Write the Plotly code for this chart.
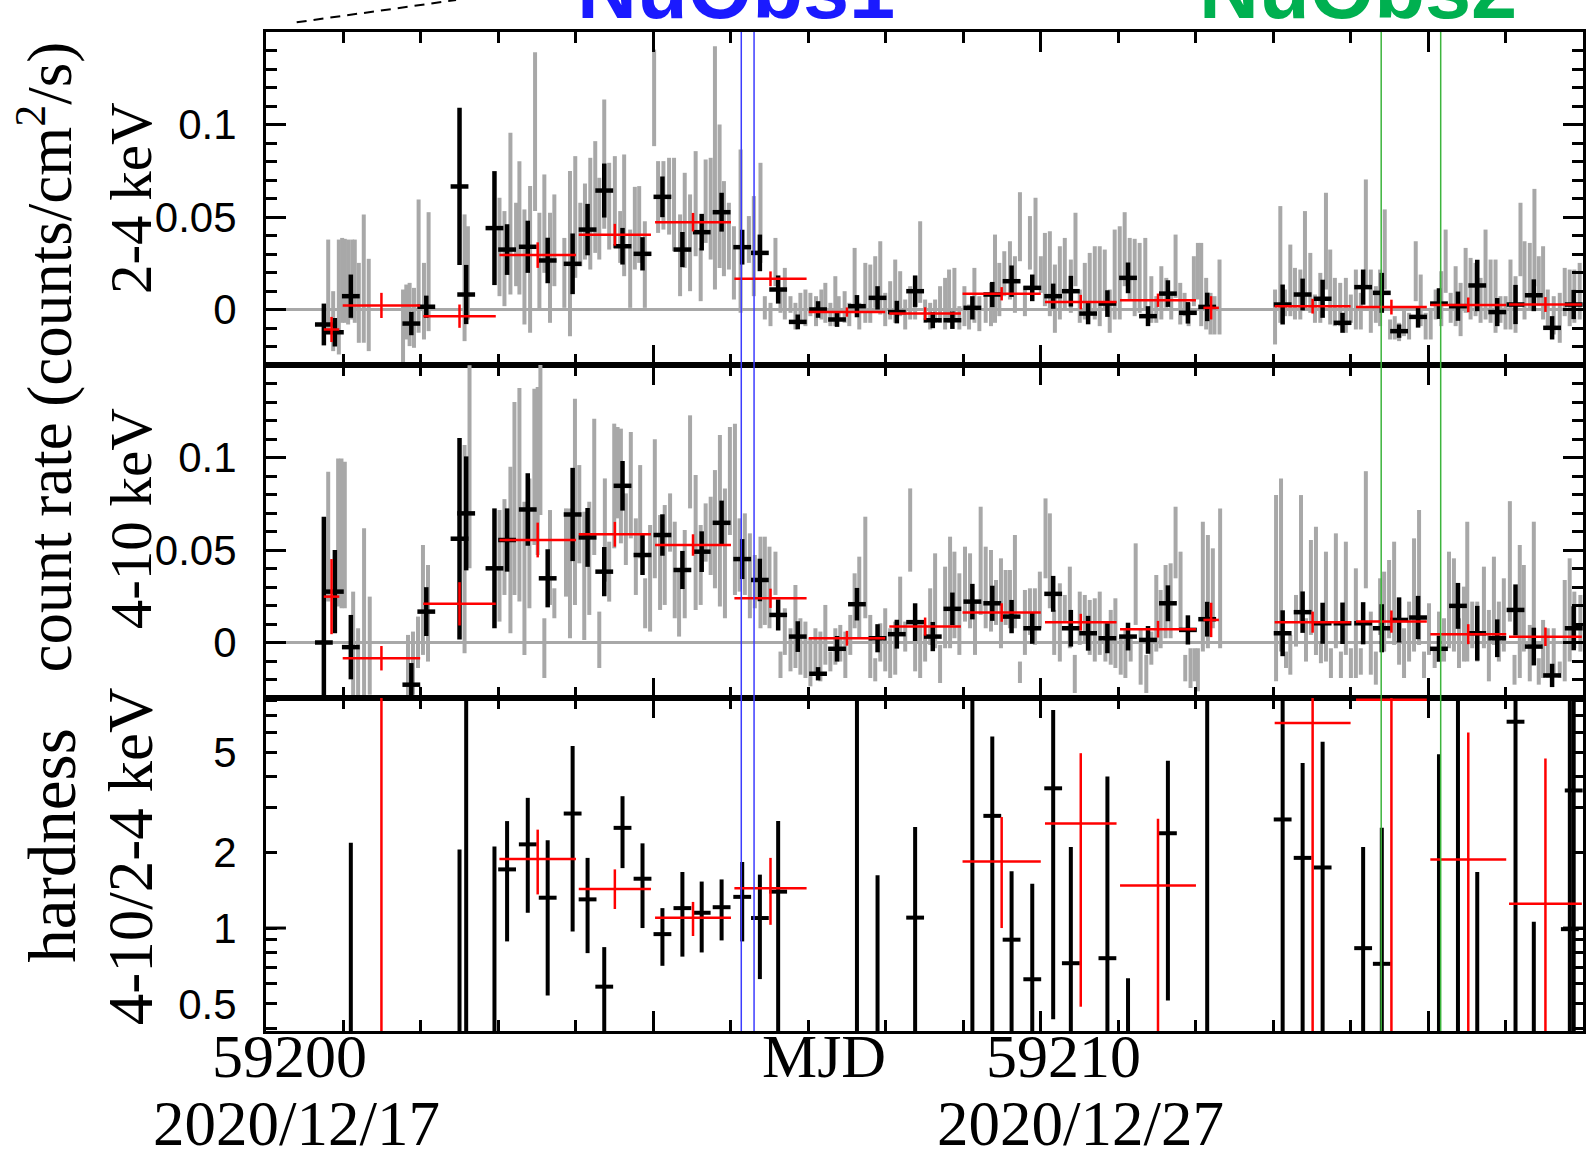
import numpy as np
import plotly.graph_objects as go
from plotly.subplots import make_subplots

# ---------------- data (times in days since MJD 59200) ----------------
MJD0 = 59200.0
X_RANGE = [59199.70, 59216.70]
TICK0 = 59199.70

obs1_window = [59205.835, 59206.000]   # NuObs1
obs2_window = [59214.095, 59214.863]   # NuObs2

# quarter-day bins (black)
black_t = [0.447, 0.589, 0.795, 1.576, 1.769, 2.198, 2.284, 2.649, 2.812, 3.079,
           3.336, 3.658, 3.851, 4.066, 4.302, 4.560, 4.817, 5.075, 5.324, 5.581,
           5.847, 6.075, 6.311, 6.564, 6.826, 7.071, 7.328, 7.594, 7.843, 8.079,
           8.307, 8.560, 8.818, 9.075, 9.324, 9.591, 9.861, 10.089, 10.312, 10.561,
           10.827, 11.085, 11.342, 11.600, 11.849, 12.823, 13.081, 13.339, 13.596, 13.862,
           14.103, 14.326, 14.571, 14.841, 15.086, 15.335, 15.593, 15.829, 16.065, 16.301,
           16.580]
black_rate_24 = [-0.0081, -0.0123, 0.0072, -0.0076, 0.0015, 0.0665, 0.0081, 0.0440, 0.0324, 0.0339,
                 0.0265, 0.0247, 0.0432, 0.0643, 0.0342, 0.0301, 0.0609, 0.0324, 0.0418, 0.0526,
                 0.0337, 0.0306, 0.0108, -0.0067, 0.0000, -0.0054, 0.0018, 0.0063, -0.0014, 0.0099,
                 -0.0058, -0.0058, 0.0009, 0.0081, 0.0153, 0.0117, 0.0072, 0.0099, -0.0022, 0.0032,
                 0.0171, -0.0036, 0.0086, -0.0018, 0.0014, 0.0027, 0.0081, 0.0058, -0.0072, 0.0121,
                 0.0090, -0.0117, -0.0040, 0.0032, 0.0018, 0.0130, -0.0014, 0.0027, 0.0077, -0.0099,
                 0.0027]
black_err_24 = [0.0113, 0.0077, 0.0117, 0.0063, 0.0060, 0.0425, 0.0160, 0.0308, 0.0137, 0.0141,
                0.0123, 0.0164, 0.0139, 0.0146, 0.0099, 0.0090, 0.0110, 0.0095, 0.0099, 0.0105,
                0.0094, 0.0099, 0.0076, 0.0040, 0.0045, 0.0040, 0.0060, 0.0063, 0.0061, 0.0085,
                0.0043, 0.0047, 0.0063, 0.0068, 0.0085, 0.0072, 0.0068, 0.0083, 0.0058, 0.0072,
                0.0083, 0.0054, 0.0072, 0.0058, 0.0077, 0.0108, 0.0086, 0.0103, 0.0054, 0.0095,
                0.0108, 0.0036, 0.0058, 0.0083, 0.0079, 0.0139, 0.0076, 0.0106, 0.0086, 0.0063,
                0.0079]
black_rate_410 = [0.0000, 0.0275, -0.0025, -0.0228, 0.0167, 0.0561, 0.0698, 0.0401, 0.0554, 0.0719,
                  0.0347, 0.0692, 0.0568, 0.0383, 0.0847, 0.0473, 0.0581, 0.0392, 0.0491, 0.0647,
                  0.0451, 0.0338, 0.0149, 0.0032, -0.0169, -0.0034, 0.0207, 0.0023, 0.0045, 0.0110,
                  0.0032, 0.0182, 0.0221, 0.0212, 0.0140, 0.0077, 0.0263, 0.0077, 0.0050, 0.0023,
                  0.0032, 0.0014, 0.0212, 0.0068, 0.0126, 0.0050, 0.0164, 0.0104, 0.0104, 0.0104,
                  0.0077, 0.0122, 0.0135, -0.0034, 0.0198, 0.0050, 0.0023, 0.0176, -0.0022, -0.0178,
                  0.0077]
black_err_410 = [0.0680, 0.0225, 0.0174, 0.0117, 0.0132, 0.0545, 0.0308, 0.0324, 0.0171, 0.0196,
                 0.0157, 0.0252, 0.0159, 0.0133, 0.0134, 0.0108, 0.0112, 0.0103, 0.0110, 0.0120,
                 0.0108, 0.0115, 0.0084, 0.0083, 0.0036, 0.0069, 0.0088, 0.0076, 0.0078, 0.0102,
                 0.0079, 0.0088, 0.0096, 0.0095, 0.0090, 0.0084, 0.0097, 0.0099, 0.0094, 0.0081,
                 0.0075, 0.0075, 0.0097, 0.0079, 0.0094, 0.0124, 0.0112, 0.0111, 0.0112, 0.0114,
                 0.0130, 0.0122, 0.0117, 0.0070, 0.0124, 0.0148, 0.0102, 0.0138, 0.0102, 0.0063,
                 0.0119]
BLACK_XERR = 0.115

# one-day bins (red)
red_t = [0.546, 1.190, 2.198, 3.207, 4.203, 5.212, 6.212, 7.199, 8.208, 9.196,
         10.217, 11.214, 11.900, 13.210, 14.227, 15.219, 16.215]
red_xerr = [0.10, 0.50, 0.468, 0.494, 0.466, 0.49, 0.466, 0.494, 0.462, 0.505,
            0.462, 0.49, 0.10, 0.49, 0.457, 0.49, 0.47]
red_rate_24 = [-0.0108, 0.0022, -0.0036, 0.0294, 0.0404, 0.0472, 0.0166, -0.0014, -0.0022, 0.0085,
               0.0040, 0.0050, 0.0009, 0.0018, 0.0013, 0.0025, 0.0027]
red_err_24 = [0.0068, 0.0068, 0.0063, 0.0069, 0.0059, 0.0050, 0.0040, 0.0025, 0.0034, 0.0036,
              0.0039, 0.0036, 0.0063, 0.0040, 0.0040, 0.0040, 0.0040]
red_rate_410 = [0.0248, -0.0085, 0.0209, 0.0554, 0.0585, 0.0527, 0.0239, 0.0023, 0.0086, 0.0162,
                0.0110, 0.0072, 0.0122, 0.0110, 0.0113, 0.0045, 0.0031]
red_err_410 = [0.0203, 0.0066, 0.0117, 0.0094, 0.0067, 0.0058, 0.0052, 0.0040, 0.0049, 0.0050,
               0.0045, 0.0045, 0.0093, 0.0057, 0.0060, 0.0054, 0.0050]

# orbit bins (gray), 2-4 keV
gray24_t = [0.503, 0.567, 0.640, 0.683, 0.717, 0.760, 0.812, 0.846, 0.898, 0.962, 1.026, 1.469, 1.511, 1.554, 1.610, 1.670, 1.739, 1.799, 2.263, 2.306, 2.714, 2.778, 2.855, 2.928, 2.971, 3.036, 3.109, 3.173, 3.229, 3.293, 3.366, 3.422, 3.551, 3.624, 3.692, 3.757, 3.817, 3.886, 3.950, 4.002, 4.066, 4.130, 4.203, 4.272, 4.323, 4.401, 4.461, 4.517, 4.590, 4.710, 4.761, 4.830, 4.903, 4.967, 5.045, 5.105, 5.174, 5.246, 5.311, 5.375, 5.440,
            5.495, 5.555, 5.611, 5.675, 5.740, 5.826, 5.933, 5.997, 6.083, 6.139, 6.212, 6.276, 6.341, 6.397, 6.470, 6.534, 6.598, 6.663, 6.727, 6.800, 6.869, 6.920, 6.985, 7.049, 7.092, 7.169, 7.229, 7.298, 7.358, 7.436, 7.500, 7.564, 7.629, 7.693, 7.757, 7.822, 7.886, 7.951, 8.015, 8.079, 8.144, 8.208, 8.273, 8.337, 8.401, 8.466, 8.517, 8.586, 8.650, 8.715, 8.775, 8.844, 8.908, 8.990, 9.058, 9.110, 9.166, 9.230, 9.303, 9.367, 9.432, 9.496, 9.561, 9.633, 9.702, 9.754, 9.818, 9.883, 9.947, 10.011, 10.089, 10.149, 10.204, 10.269, 10.333, 10.398, 10.462, 10.527, 10.591, 10.655, 10.720, 10.784, 10.849, 10.913, 10.977,
            11.050, 11.128, 11.192, 11.257, 11.321, 11.385, 11.441, 11.501, 11.557, 11.609, 11.677, 11.729, 11.772, 11.836, 11.892, 11.943, 12.008, 12.725, 12.793, 12.854, 12.922, 12.982, 13.051, 13.111, 13.180, 13.240, 13.309, 13.382, 13.437, 13.497, 13.566, 13.639, 13.703, 13.768, 13.832, 13.897, 13.961, 14.026, 14.081, 14.141, 14.210, 14.270, 14.326, 14.390, 14.455, 14.541, 14.605, 14.669, 14.734, 14.798, 14.871, 14.927, 14.992, 15.056, 15.120, 15.185, 15.249, 15.313, 15.378, 15.442, 15.507, 15.571, 15.635, 15.700, 15.764, 15.829, 15.893, 15.945, 16.013, 16.073, 16.129, 16.185, 16.245, 16.322, 16.400, 16.464, 16.528, 16.588, 16.657]
gray24_hi = [0.0378, 0.0099, 0.0378, 0.0387, 0.0382, 0.0378, 0.0378, 0.0378, 0.0252, 0.0514, 0.0274, 0.0108, 0.0135, 0.0144, 0.0117, 0.0595, 0.0252, 0.0526, 0.0514, 0.0450, 0.0604, 0.0532, 0.0955, 0.0577, 0.0802, 0.0541, 0.0667, 0.1391, 0.0523, 0.0730, 0.0523, 0.0622, 0.0387, 0.0748, 0.0829, 0.0577, 0.0681, 0.0820, 0.0910, 0.0712, 0.1135, 0.0793, 0.0829, 0.0532, 0.0838, 0.0432, 0.0663, 0.0667, 0.0477, 0.1405, 0.0802, 0.0802, 0.0820, 0.0820, 0.0514, 0.0739, 0.0622, 0.0856, 0.0333, 0.0811, 0.0820,
             0.1423, 0.1000, 0.0694, 0.0577, 0.0450, 0.0865, 0.0505, 0.0613, 0.0793, 0.0072, 0.0036, 0.0387, 0.0108, 0.0225, 0.0072, 0.0036, 0.0090, 0.0108, 0.0090, 0.0072, 0.0108, 0.0144, 0.0036, 0.0180, 0.0072, 0.0099, 0.0036, 0.0333, 0.0036, 0.0252, 0.0243, 0.0288, 0.0369, 0.0090, 0.0153, 0.0270, 0.0207, 0.0054, 0.0126, 0.0180, 0.0477, 0.0054, 0.0036, 0.0054, 0.0126, 0.0171, 0.0216, 0.0225, 0.0018, 0.0126, 0.0027, 0.0225, 0.0072, 0.0072, 0.0144, 0.0405, 0.0252, 0.0315, 0.0369, 0.0288, 0.0634, 0.0126, 0.0505, 0.0604, 0.0288, 0.0414, 0.0423, 0.0243, 0.0342, 0.0387, 0.0270, 0.0523, 0.0108, 0.0252, 0.0306, 0.0342, 0.0342, 0.0324, 0.0108, 0.0432, 0.0450, 0.0526, 0.0387, 0.0382, 0.0360,
             0.0387, 0.0180, 0.0072, 0.0234, 0.0171, 0.0090, 0.0405, 0.0144, 0.0090, 0.0036, 0.0288, 0.0360, 0.0360, 0.0171, 0.0090, 0.0072, 0.0270, 0.0108, 0.0559, 0.0108, 0.0351, 0.0225, 0.0216, 0.0532, 0.0306, 0.0081, 0.0198, 0.0631, 0.0324, 0.0171, 0.0144, 0.0171, 0.0081, 0.0216, 0.0090, 0.0703, 0.0216, 0.0126, 0.0216, 0.0541, -0.0054, -0.0036, -0.0072, 0.0009, -0.0018, 0.0369, 0.0189, -0.0018, 0.0009, 0.0108, 0.0207, 0.0432, 0.0090, 0.0234, 0.0144, 0.0333, 0.0279, 0.0252, 0.0171, 0.0432, 0.0270, 0.0270, 0.0072, 0.0072, 0.0270, 0.0180, 0.0577, 0.0369, 0.0360, 0.0652, 0.0288, 0.0342, 0.0108, 0.0072, 0.0090, 0.0225, 0.0216, 0.0216, 0.0252]
gray24_lo = [-0.0108, -0.0225, -0.0243, -0.0072, -0.0072, -0.0081, -0.0054, -0.0072, -0.0180, -0.0180, -0.0225, -0.0288, -0.0162, -0.0198, -0.0207, -0.0126, -0.0162, -0.0117, -0.0171, -0.0054, 0.0072, 0.0018, 0.0081, 0.0126, 0.0081, -0.0081, -0.0126, 0.0532, 0.0000, 0.0198, -0.0072, 0.0126, 0.0009, -0.0144, 0.0171, 0.0234, 0.0270, 0.0216, 0.0306, 0.0270, 0.0436, 0.0324, 0.0333, 0.0252, 0.0180, 0.0009, 0.0216, 0.0252, 0.0009, 0.0883, 0.0414, 0.0432, 0.0405, 0.0315, 0.0072, 0.0225, 0.0099, 0.0288, 0.0045, 0.0360, 0.0270,
             0.0108, 0.0225, 0.0180, 0.0216, 0.0054, -0.0018, 0.0252, 0.0072, 0.0252, -0.0054, -0.0090, 0.0126, -0.0018, -0.0054, -0.0018, -0.0108, -0.0072, -0.0090, -0.0036, -0.0090, -0.0054, -0.0072, -0.0090, -0.0090, -0.0054, -0.0072, -0.0090, 0.0018, -0.0108, -0.0072, -0.0072, 0.0009, -0.0027, -0.0090, -0.0054, -0.0072, -0.0036, -0.0108, -0.0054, -0.0054, 0.0036, -0.0072, -0.0108, -0.0072, -0.0072, -0.0108, -0.0072, -0.0054, -0.0108, -0.0090, -0.0108, -0.0072, -0.0117, -0.0072, -0.0090, -0.0072, -0.0036, 0.0072, 0.0054, -0.0018, 0.0261, -0.0036, 0.0216, 0.0126, 0.0090, 0.0018, -0.0036, -0.0126, -0.0054, 0.0000, -0.0018, 0.0126, -0.0072, -0.0054, -0.0018, -0.0054, -0.0090, 0.0000, -0.0126, -0.0054, -0.0054, 0.0126, 0.0054, -0.0036, -0.0018,
             0.0000, -0.0072, -0.0072, -0.0054, 0.0009, -0.0054, 0.0063, -0.0081, -0.0036, -0.0090, 0.0018, 0.0054, -0.0090, -0.0108, -0.0135, -0.0135, -0.0135, -0.0189, -0.0072, -0.0036, -0.0036, -0.0054, -0.0054, 0.0000, -0.0018, -0.0072, -0.0072, 0.0108, -0.0081, -0.0090, -0.0090, -0.0126, -0.0072, -0.0108, -0.0108, 0.0126, -0.0126, -0.0072, -0.0090, 0.0108, -0.0162, -0.0162, -0.0171, -0.0144, -0.0162, 0.0045, -0.0090, -0.0162, -0.0162, -0.0054, -0.0090, 0.0090, -0.0072, -0.0090, -0.0144, -0.0018, -0.0054, -0.0036, -0.0072, -0.0054, -0.0072, -0.0126, -0.0072, -0.0108, -0.0108, -0.0126, 0.0180, -0.0054, 0.0000, 0.0126, 0.0018, -0.0054, -0.0108, -0.0135, -0.0180, -0.0036, -0.0090, -0.0072, -0.0054]

# orbit bins (gray), 4-10 keV
gray410_t = [0.503, 0.631, 0.674, 0.717, 0.825, 0.889, 0.966, 1.039, 1.533, 1.597, 1.662, 1.726, 1.791, 2.263, 2.327, 2.714, 2.778, 2.855, 2.907, 2.971, 3.036, 3.100, 3.164, 3.207, 3.242, 3.293, 3.366, 3.422, 3.572, 3.624, 3.688, 3.744, 3.808, 3.873, 3.937, 4.002, 4.074, 4.130, 4.195, 4.238, 4.281, 4.345, 4.409, 4.474, 4.530, 4.594, 4.658, 4.719, 4.787, 4.847, 4.916, 4.976, 5.032, 5.105, 5.174, 5.246, 5.311, 5.375, 5.440,
             5.495, 5.559, 5.624, 5.688, 5.753, 5.813, 5.881, 5.946, 6.010, 6.083, 6.139, 6.199, 6.276, 6.341, 6.397, 6.470, 6.534, 6.598, 6.663, 6.727, 6.792, 6.856, 6.920, 6.985, 7.049, 7.113, 7.178, 7.242, 7.298, 7.358, 7.436, 7.500, 7.564, 7.629, 7.693, 7.757, 7.822, 7.886, 7.951, 8.015, 8.079, 8.144, 8.208, 8.273, 8.337, 8.401, 8.466, 8.530, 8.586, 8.650, 8.723, 8.788, 8.852, 8.925, 8.990, 9.058, 9.123, 9.187, 9.247, 9.303, 9.367, 9.432, 9.496, 9.561, 9.625, 9.689, 9.762, 9.818, 9.874, 9.947, 10.011, 10.076, 10.140, 10.204, 10.269, 10.333, 10.398, 10.462, 10.535, 10.604, 10.664, 10.733, 10.793, 10.861, 10.926, 10.990,
             11.063, 11.128, 11.192, 11.248, 11.312, 11.377, 11.441, 11.505, 11.566, 11.634, 11.686, 11.729, 11.793, 11.858, 11.922, 12.016, 12.738, 12.802, 12.866, 12.922, 12.995, 13.060, 13.124, 13.188, 13.253, 13.317, 13.382, 13.446, 13.510, 13.575, 13.639, 13.704, 13.768, 13.832, 13.897, 13.961, 14.026, 14.081, 14.133, 14.197, 14.262, 14.326, 14.390, 14.455, 14.519, 14.584, 14.648, 14.712, 14.785, 14.841, 14.906, 14.970, 15.034, 15.099, 15.163, 15.206, 15.270, 15.335, 15.421, 15.485, 15.550, 15.614, 15.678, 15.756, 15.816, 15.884, 15.936, 16.013, 16.065, 16.129, 16.185, 16.245, 16.322, 16.400, 16.464, 16.528, 16.588, 16.666]
gray410_hi = [0.0923, 0.0995, 0.0995, 0.0977, 0.0275, 0.0077, 0.0617, 0.0248, 0.0041, 0.0059, 0.0140, 0.0527, 0.0419, 0.1067, 0.1498, 0.0716, 0.0775, 0.0950, 0.1300, 0.1376, 0.0761, 0.0887, 0.1372, 0.1381, 0.1502, 0.0131, 0.0716, 0.0293, 0.0725, 0.0725, 0.1318, 0.0959, 0.0707, 0.0761, 0.1210, 0.0167, 0.0887, 0.0545, 0.1183, 0.1165, 0.1156, 0.0806, 0.1138, 0.0671, 0.0959, 0.0347, 0.0635, 0.1099, 0.0689, 0.0743, 0.0806, 0.0653, 0.0392, 0.0608, 0.1228, 0.0905, 0.0635, 0.0752, 0.0788,
              0.0932, 0.1121, 0.0833, 0.1165, 0.1183, 0.0671, 0.0698, 0.0590, 0.0473, 0.0572, 0.0572, 0.0518, 0.0491, -0.0049, 0.0185, 0.0077, 0.0311, 0.0131, 0.0113, 0.0023, 0.0077, 0.0059, 0.0203, -0.0049, 0.0077, 0.0095, 0.0059, 0.0149, 0.0374, 0.0464, 0.0680, 0.0149, -0.0085, 0.0104, 0.0185, 0.0077, 0.0113, 0.0356, 0.0113, 0.0833, 0.0077, 0.0095, 0.0095, 0.0293, 0.0482, -0.0013, 0.0410, 0.0572, 0.0491, 0.0374, 0.0518, 0.0482, 0.0221, 0.0734, 0.0518, 0.0500, 0.0338, 0.0455, 0.0392, 0.0392, 0.0581, -0.0103, 0.0284, 0.0293, 0.0293, 0.0383, 0.0779, 0.0698, 0.0176, 0.0320, 0.0257, 0.0410, -0.0067, 0.0275, 0.0257, 0.0230, 0.0239, 0.0275, 0.0113, 0.0176, 0.0239, 0.0023, 0.0077, 0.0023, 0.0536, 0.0077,
              -0.0067, 0.0059, 0.0365, 0.0284, 0.0419, 0.0428, 0.0734, 0.0491, -0.0067, -0.0031, -0.0031, -0.0031, 0.0653, 0.0581, 0.0509, 0.0725, 0.0797, 0.0887, -0.0049, 0.0041, 0.0257, 0.0797, 0.0131, 0.0554, 0.0626, 0.0005, 0.0491, -0.0031, 0.0590, -0.0049, 0.0545, -0.0031, 0.0401, -0.0031, 0.0926, 0.0167, -0.0049, 0.0347, 0.0383, 0.0446, 0.0545, 0.0221, 0.0077, 0.0221, 0.0563, 0.0716, -0.0049, 0.0212, -0.0031, 0.0167, 0.0131, 0.0491, 0.0455, 0.0131, 0.0302, 0.0653, 0.0221, 0.0221, 0.0410, 0.0176, 0.0464, 0.0221, 0.0347, 0.0764, -0.0067, 0.0527, 0.0419, 0.0095, 0.0653, -0.0085, 0.0122, 0.0077, 0.0077, -0.0103, 0.0338, 0.0455, 0.0275, 0.0257]
gray410_lo = [0.0221, 0.0194, 0.0185, 0.0185, -0.0291, -0.0291, -0.0291, -0.0282, -0.0291, -0.0282, -0.0138, -0.0067, -0.0103, -0.0058, 0.0401, 0.0113, 0.0257, 0.0050, 0.0257, 0.0221, -0.0067, 0.0185, 0.0527, 0.0473, 0.0689, -0.0192, 0.0203, 0.0131, 0.0248, 0.0023, 0.0203, 0.0428, 0.0014, 0.0149, 0.0473, -0.0138, 0.0329, 0.0221, 0.0509, 0.0671, 0.0536, 0.0419, 0.0563, 0.0257, 0.0455, 0.0077, 0.0059, 0.0347, 0.0176, 0.0203, 0.0491, 0.0131, 0.0032, 0.0131, 0.0725, 0.0176, 0.0203, 0.0437, 0.0365,
              0.0293, 0.0194, 0.0131, 0.0581, 0.0257, 0.0275, 0.0257, 0.0131, 0.0185, 0.0077, 0.0095, 0.0077, 0.0257, -0.0192, -0.0067, -0.0156, -0.0138, -0.0174, -0.0192, -0.0237, -0.0174, -0.0210, -0.0120, -0.0156, -0.0120, -0.0103, -0.0192, -0.0067, 0.0077, 0.0023, 0.0131, -0.0192, -0.0210, -0.0103, -0.0156, -0.0192, -0.0174, 0.0041, -0.0049, 0.0383, -0.0156, -0.0192, -0.0103, -0.0013, -0.0031, -0.0219, -0.0031, -0.0031, 0.0023, -0.0067, 0.0113, 0.0077, -0.0067, 0.0149, 0.0077, 0.0059, 0.0095, -0.0031, 0.0095, 0.0077, 0.0077, -0.0219, -0.0067, 0.0041, -0.0013, 0.0077, 0.0347, 0.0185, -0.0067, -0.0103, 0.0113, -0.0031, -0.0273, -0.0013, 0.0005, -0.0067, -0.0103, -0.0067, -0.0103, -0.0120, -0.0138, -0.0174, -0.0192, -0.0103, 0.0095, -0.0228,
              -0.0273, -0.0120, -0.0049, -0.0031, 0.0023, 0.0023, 0.0347, 0.0077, -0.0210, -0.0246, -0.0210, -0.0264, -0.0049, -0.0031, 0.0077, -0.0031, -0.0210, -0.0049, -0.0138, -0.0174, -0.0022, 0.0113, -0.0103, 0.0041, -0.0067, -0.0112, -0.0103, -0.0192, -0.0031, -0.0192, -0.0067, -0.0192, -0.0192, -0.0174, 0.0293, -0.0174, -0.0228, 0.0041, -0.0049, 0.0023, -0.0013, -0.0120, -0.0192, -0.0103, -0.0049, -0.0013, -0.0192, -0.0067, -0.0138, -0.0067, -0.0103, -0.0031, -0.0049, -0.0138, -0.0103, -0.0103, -0.0031, -0.0103, -0.0031, -0.0210, -0.0013, -0.0103, -0.0049, 0.0113, -0.0228, -0.0192, -0.0049, -0.0210, -0.0031, -0.0228, -0.0192, -0.0192, -0.0174, -0.0192, -0.0210, -0.0103, -0.0031, -0.0049]

# hardness ratio, quarter-day bins (black): value, lower, upper
hard_black_t = [0.795, 2.198, 2.284, 2.649, 2.812, 3.079, 3.336, 3.658, 3.851, 4.066,
                4.302, 4.560, 4.817, 5.075, 5.324, 5.581, 5.847, 6.075, 6.311, 7.328,
                7.594, 8.079, 8.818, 9.075, 9.324, 9.591, 9.861, 10.089, 10.561, 10.827,
                11.342, 11.849, 12.823, 13.081, 13.339, 13.862, 14.103, 14.841, 15.086, 15.335,
                15.829, 16.065, 16.530, 16.580]
hard_black_val = [0.2, 0.2, 0.2, 0.2, 1.71, 2.15, 1.32, 2.85, 1.30, 0.585,
                  2.50, 1.57, 0.946, 1.20, 1.15, 1.21, 1.33, 1.096, 1.395, 0.2,
                  0.2, 1.10, 0.2, 2.79, 0.899, 0.626, 3.59, 0.725, 0.759, 0.2,
                  2.38, 0.2, 2.70, 1.90, 1.74, 0.832, 0.721, 0.2, 0.2, 0.2,
                  6.60, 0.2, 0.99, 3.52]
hard_black_lo = [0.1, 0.1, 0.1, 0.1, 0.885, 1.15, 0.54, 0.97, 0.795, 0.30,
                 1.73, 1.00, 0.708, 0.77, 0.80, 0.893, 0.885, 0.627, 0.2, 0.1,
                 0.1, 0.2, 0.1, 0.2, 0.2, 0.2, 0.434, 0.2, 0.2, 0.1,
                 0.515, 0.1, 0.1, 0.2, 0.2, 0.2, 0.2, 0.1, 0.1, 0.1,
                 0.1, 0.1, 0.1, 0.1]
hard_black_hi = [2.18, 2.05, 20.0, 2.11, 2.66, 3.29, 2.23, 5.29, 1.90, 0.84,
                 3.34, 2.17, 1.20, 1.67, 1.53, 1.56, 1.83, 1.63, 2.66, 20.0,
                 1.62, 2.52, 20.0, 5.77, 1.68, 1.50, 7.35, 2.10, 4.00, 0.632,
                 4.62, 20.0, 20.0, 4.52, 5.50, 2.10, 2.50, 4.90, 20.0, 1.67,
                 20.0, 1.06, 20.0, 20.0]

# hardness ratio, one-day bins (red)
hard_red_t = [1.190, 3.207, 4.203, 5.212, 6.212, 9.196, 10.217, 11.214, 13.210, 14.227, 15.219, 16.215]
hard_red_xerr = [0.50, 0.494, 0.466, 0.49, 0.466, 0.505, 0.462, 0.49, 0.49, 0.457, 0.49, 0.47]
hard_red_val = [0.3, 1.88, 1.43, 1.10, 1.44, 1.84, 2.60, 1.475, 6.52, 8.07, 1.87, 1.25]
hard_red_lo = [0.1, 1.36, 1.19, 0.93, 1.03, 1.00, 0.487, 0.2, 0.2, 0.2, 0.2, 0.2]
hard_red_hi = [20.0, 2.46, 1.71, 1.27, 1.90, 2.76, 4.95, 2.72, 20.0, 20.0, 5.98, 4.71]

# axis tick labels
rate_tickvals = [0, 0.05, 0.1]
rate_ticktext = ["0", "0.05", "0.1"]
hard_tickvals = [0.5, 1, 2, 5]
hard_ticktext = ["0.5", "1", "2", "5"]
hard_minorvals = [0.4, 0.6, 0.7, 0.8, 0.9, 3, 4, 6, 7, 8]
HARD_RANGE = [0.39, 8.2]
RATE_RANGE = [-0.03, 0.15]

# ---------------- figure ----------------
GRAY = "#a8a8a8"
RED = "#ff0000"
SERIF = "Liberation Serif"
SANS = "Liberation Sans"

fig = make_subplots(rows=3, cols=1, shared_xaxes=True, vertical_spacing=0)

def mjd(t):
    return MJD0 + np.asarray(t, dtype=float)

invisible = dict(size=1, color="rgba(0,0,0,0)")

def add_rate_panel(row, gt, glo, ghi, brate, berr, rrate, rerr):
    glo = np.asarray(glo); ghi = np.asarray(ghi)
    fig.add_trace(go.Scatter(
        x=mjd(gt), y=(glo + ghi) / 2, mode="markers", marker=invisible,
        error_y=dict(type="data", array=(ghi - glo) / 2, symmetric=True,
                     color=GRAY, thickness=4, width=0),
        hoverinfo="skip", showlegend=False), row=row, col=1)
    fig.add_trace(go.Scatter(
        x=mjd(black_t), y=brate, mode="markers", marker=invisible,
        error_y=dict(type="data", array=berr, color="black", thickness=4.5, width=0),
        error_x=dict(type="constant", value=BLACK_XERR, color="black", thickness=4.5, width=0),
        hoverinfo="skip", showlegend=False), row=row, col=1)
    fig.add_trace(go.Scatter(
        x=mjd(red_t), y=rrate, mode="markers", marker=invisible,
        error_y=dict(type="data", array=rerr, color=RED, thickness=2.5, width=0),
        error_x=dict(type="data", array=red_xerr, color=RED, thickness=2.5, width=0),
        hoverinfo="skip", showlegend=False), row=row, col=1)

add_rate_panel(1, gray24_t, gray24_lo, gray24_hi, black_rate_24, black_err_24, red_rate_24, red_err_24)
add_rate_panel(2, gray410_t, gray410_lo, gray410_hi, black_rate_410, black_err_410, red_rate_410, red_err_410)

hb_v = np.asarray(hard_black_val)
fig.add_trace(go.Scatter(
    x=mjd(hard_black_t), y=hb_v, mode="markers", marker=invisible,
    error_y=dict(type="data", symmetric=False,
                 array=np.asarray(hard_black_hi) - hb_v,
                 arrayminus=hb_v - np.asarray(hard_black_lo),
                 color="black", thickness=4, width=0),
    error_x=dict(type="constant", value=BLACK_XERR, color="black", thickness=4, width=0),
    hoverinfo="skip", showlegend=False), row=3, col=1)
hr_v = np.asarray(hard_red_val)
fig.add_trace(go.Scatter(
    x=mjd(hard_red_t), y=hr_v, mode="markers", marker=invisible,
    error_y=dict(type="data", symmetric=False,
                 array=np.asarray(hard_red_hi) - hr_v,
                 arrayminus=hr_v - np.asarray(hard_red_lo),
                 color=RED, thickness=2.5, width=0),
    error_x=dict(type="data", array=hard_red_xerr, color=RED, thickness=2.5, width=0),
    hoverinfo="skip", showlegend=False), row=3, col=1)

# ---------------- axes ----------------
for r in (1, 2, 3):
    fig.update_xaxes(row=r, col=1, range=X_RANGE, tick0=TICK0, dtick=5,
                     ticks="inside", ticklen=20, tickwidth=3, tickcolor="black",
                     showline=True, linewidth=3, linecolor="black", mirror="ticks",
                     showticklabels=False, showgrid=False, zeroline=False,
                     minor=dict(tick0=TICK0, dtick=1, ticks="inside", ticklen=11,
                                tickwidth=3, tickcolor="black", showgrid=False))

for r in (1, 2):
    fig.update_yaxes(row=r, col=1, range=RATE_RANGE, tickmode="array",
                     tickvals=rate_tickvals, ticktext=rate_ticktext,
                     ticks="inside", ticklen=20, tickwidth=3, tickcolor="black",
                     showline=True, linewidth=3, linecolor="black", mirror="ticks",
                     showgrid=False, zeroline=True, zerolinecolor=GRAY, zerolinewidth=2.5,
                     tickfont=dict(family=SANS, size=42, color="black"),
                     ticklabelstandoff=18,
                     minor=dict(tick0=0, dtick=0.01, ticks="inside", ticklen=11,
                                tickwidth=3, tickcolor="black", showgrid=False))

LOG_LO, LOG_HI = np.log10(HARD_RANGE[0]), np.log10(HARD_RANGE[1])
fig.update_yaxes(row=3, col=1, type="log", range=[LOG_LO, LOG_HI], tickmode="array",
                 tickvals=hard_tickvals, ticktext=hard_ticktext,
                 ticks="inside", ticklen=11, tickwidth=3, tickcolor="black",
                 showline=True, linewidth=3, linecolor="black", mirror="ticks",
                 showgrid=False, zeroline=False,
                 tickfont=dict(family=SANS, size=42, color="black"),
                 ticklabelstandoff=18,
                 minor=dict(tickmode="array", tickvals=hard_minorvals, ticks="inside",
                            ticklen=11, tickwidth=3, tickcolor="black", showgrid=False))

# ---------------- decorations ----------------
shapes = []
# long tick at hardness = 1 (both sides)
y_one = (0 - LOG_LO) / (LOG_HI - LOG_LO)
for x0, x1 in ((0, 20 / 1320), (1 - 20 / 1320, 1)):
    shapes.append(dict(type="line", xref="x3 domain", yref="y3 domain",
                       x0=x0, x1=x1, y0=y_one, y1=y_one,
                       line=dict(color="black", width=3)))
# NuSTAR observation windows
for xv in obs1_window:
    shapes.append(dict(type="line", xref="x", yref="paper", x0=xv, x1=xv, y0=0, y1=1,
                       line=dict(color="#3c3cff", width=1.5)))
for xv in obs2_window:
    shapes.append(dict(type="line", xref="x", yref="paper", x0=xv, x1=xv, y0=0, y1=1,
                       line=dict(color="#3cb43c", width=1.5)))
# dashed connector at the top left
shapes.append(dict(type="line", xref="paper", yref="paper",
                   x0=0.0233, y0=1.0097, x1=0.1443, y1=1.0320,
                   line=dict(color="black", width=2, dash="10px,7px")))

annotations = [
    dict(text="count rate (counts/cm<sup>2</sup>/s)", textangle=-90, xref="paper", yref="paper",
         x=-0.1674, y=0.6747, xanchor="center", yanchor="middle", showarrow=False,
         font=dict(family=SERIF, size=63, color="black")),
    dict(text="2-4 keV", textangle=-90, xref="paper", yref="paper",
         x=-0.1023, y=0.834, xanchor="center", yanchor="middle", showarrow=False,
         font=dict(family=SERIF, size=59, color="black")),
    dict(text="4-10 keV", textangle=-90, xref="paper", yref="paper",
         x=-0.1023, y=0.5125, xanchor="center", yanchor="middle", showarrow=False,
         font=dict(family=SERIF, size=59, color="black")),
    dict(text="hardness", textangle=-90, xref="paper", yref="paper",
         x=-0.1621, y=0.185, xanchor="center", yanchor="middle", showarrow=False,
         font=dict(family=SERIF, size=67, color="black")),
    dict(text="4-10/2-4 keV", textangle=-90, xref="paper", yref="paper",
         x=-0.1023, y=0.1752, xanchor="center", yanchor="middle", showarrow=False,
         font=dict(family=SERIF, size=63, color="black")),
    dict(text="59200", xref="x3", yref="paper", x=59200.0, y=0.011, xanchor="center",
         yanchor="top", showarrow=False, font=dict(family=SERIF, size=62, color="black")),
    dict(text="2020/12/17", xref="x3", yref="paper", x=59200.09, y=-0.0561, xanchor="center",
         yanchor="top", showarrow=False, font=dict(family=SERIF, size=63, color="black")),
    dict(text="MJD", xref="x3", yref="paper", x=59206.90, y=0.011, xanchor="center",
         yanchor="top", showarrow=False, font=dict(family=SERIF, size=62, color="black")),
    dict(text="59210", xref="x3", yref="paper", x=59210.0, y=0.011, xanchor="center",
         yanchor="top", showarrow=False, font=dict(family=SERIF, size=62, color="black")),
    dict(text="2020/12/27", xref="x3", yref="paper", x=59210.21, y=-0.0561, xanchor="center",
         yanchor="top", showarrow=False, font=dict(family=SERIF, size=63, color="black")),
    dict(text="<b>NuObs1</b>", xref="x", yref="paper", x=59205.77, y=0.9944, xanchor="center",
         yanchor="bottom", showarrow=False, font=dict(family=SANS, size=83, color="#1a1aff")),
    dict(text="<b>NuObs2</b>", xref="x", yref="paper", x=59213.80, y=0.9944, xanchor="center",
         yanchor="bottom", showarrow=False, font=dict(family=SANS, size=83, color="#00b050")),
]

fig.update_layout(width=1590, height=1152,
                  margin=dict(l=266, r=4, t=32, b=121),
                  plot_bgcolor="white", paper_bgcolor="white",
                  showlegend=False, shapes=shapes, annotations=annotations)

fig.write_html("out.html",
               config={"displayModeBar": False},
               post_script="document.body.style.margin='0px';document.body.style.overflow='hidden';")
